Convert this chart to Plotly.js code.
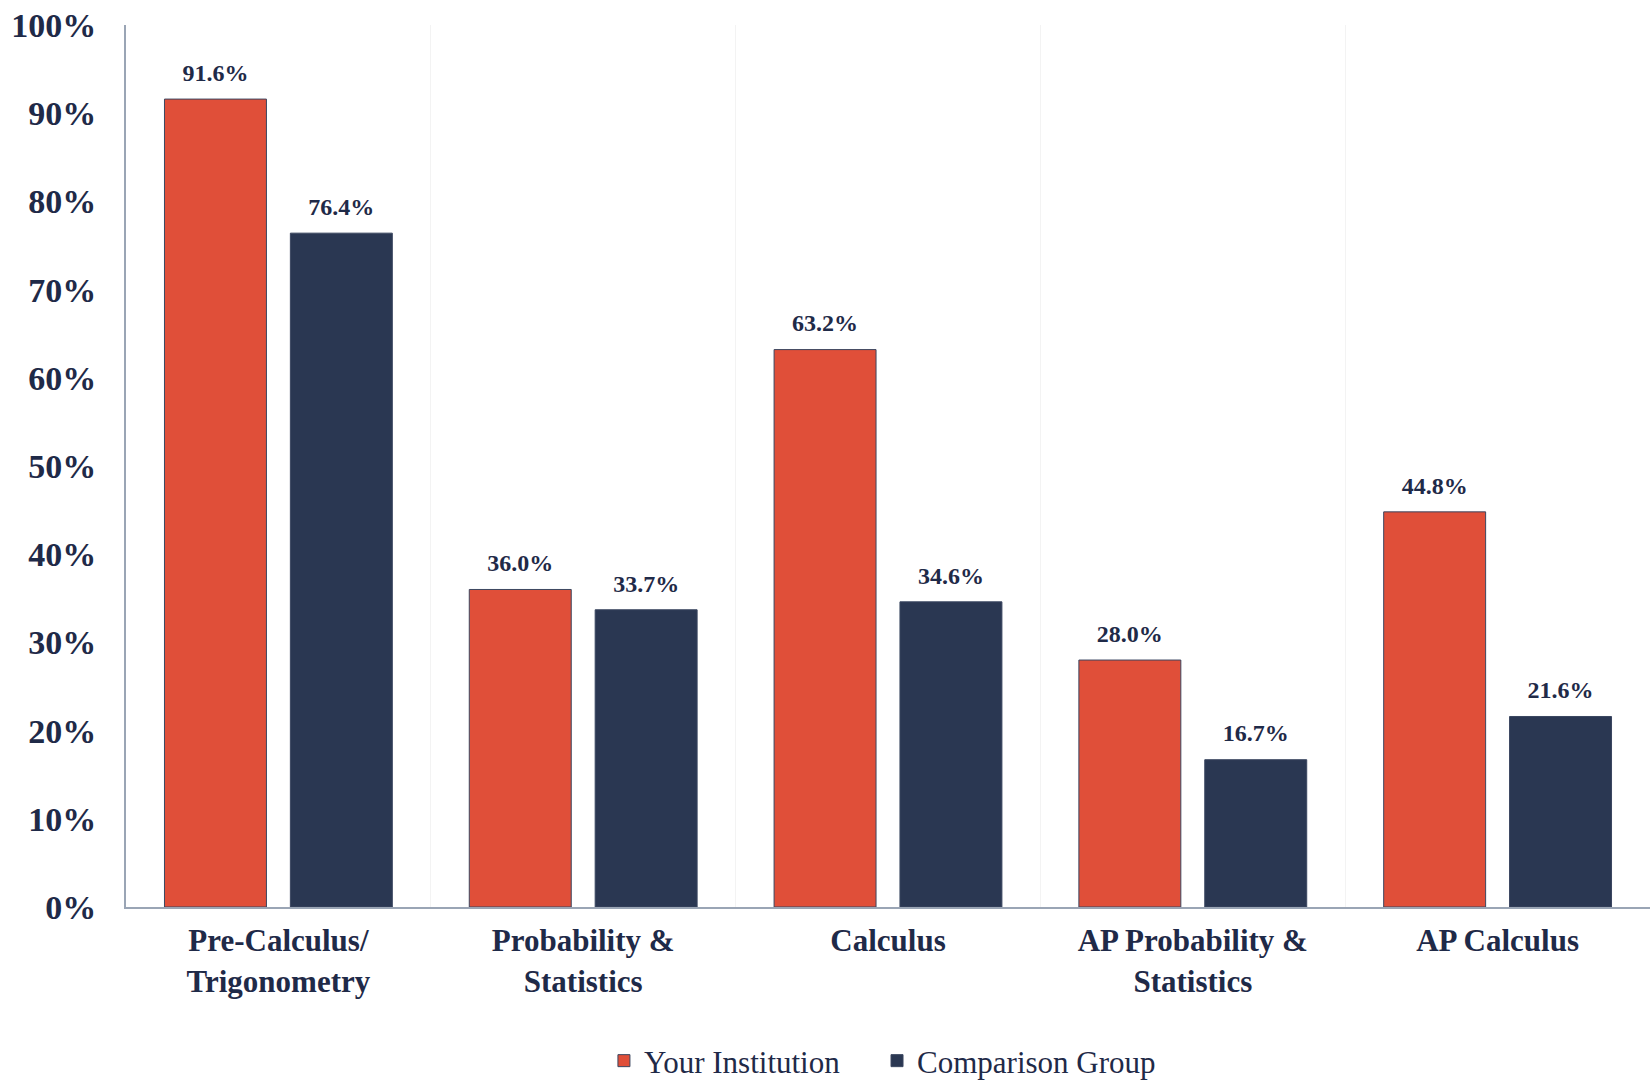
<!DOCTYPE html>
<html>
<head>
<meta charset="utf-8">
<script src="https://cdn.plot.ly/plotly-3.0.1.min.js"></script>
<style>html,body{margin:0;padding:0;background:#fff;}#chart{width:1652px;height:1081px;}</style>
</head>
<body>
<div id="chart"></div>
<script>
const categories = ["Pre-Calculus/<br>Trigonometry", "Probability &<br>Statistics", "Calculus", "AP Probability &<br>Statistics", "AP Calculus"];
const yourInstitution = [91.6, 36.0, 63.2, 28.0, 44.8];
const comparisonGroup = [76.4, 33.7, 34.6, 16.7, 21.6];
const seriesNames = ["Your Institution", "Comparison Group"];
const yTickValues = [0, 10, 20, 30, 40, 50, 60, 70, 80, 90, 100];
const yTickLabels = ["0%", "10%", "20%", "30%", "40%", "50%", "60%", "70%", "80%", "90%", "100%"];

const fontFam = "Liberation Serif, Times New Roman, serif";
const textColor = "#1f2a48";
const labelFont = {family: fontFam, size: 24, color: textColor, weight: "bold"};

function barTrace(name, vals, color, legendId) {
  return {
    type: "bar", name: name, x: categories, y: vals, legend: legendId,
    marker: {color: color, line: {color: "#3a4660", width: 1}},
    hoverinfo: "none"
  };
}
function labelTrace(name, vals) {
  return {
    type: "scatter", mode: "markers+text", name: name, showlegend: false,
    x: categories, y: vals,
    text: vals.map(v => v.toFixed(1) + "%"),
    textposition: "top center", textfont: labelFont,
    marker: {size: 18, color: "rgba(0,0,0,0)", line: {width: 0}},
    cliponaxis: false, hoverinfo: "none"
  };
}

const traces = [
  barTrace(seriesNames[0], yourInstitution, "#E04F39", "legend"),
  barTrace(seriesNames[1], comparisonGroup, "#2A3752", "legend2"),
  labelTrace(seriesNames[0] + " labels", yourInstitution),
  labelTrace(seriesNames[1] + " labels", comparisonGroup)
];

const legendBase = {
  orientation: "h", xanchor: "left",
  yref: "container", y: 0.0185, yanchor: "middle",
  font: {family: fontFam, size: 31, color: textColor},
  itemwidth: 30, bgcolor: "rgba(0,0,0,0)"
};

const layout = {
  width: 1652, height: 1081,
  margin: {l: 126, r: 2, t: 25, b: 174, autoexpand: false},
  paper_bgcolor: "#ffffff", plot_bgcolor: "#ffffff",
  barmode: "group", bargap: 0.174, bargroupgap: 0.19,
  scattermode: "group", scattergap: 0.174,
  font: {family: fontFam, color: textColor},
  showlegend: true,
  legend: Object.assign({}, legendBase, {x: 0.3136}),
  legend2: Object.assign({}, legendBase, {x: 0.4928}),
  xaxis: {
    type: "category",
    showline: true, linecolor: "#9aa5b5", linewidth: 2,
    showgrid: true, gridcolor: "#f3f3f3", gridwidth: 1, tickson: "boundaries",
    ticks: "", ticklabelstandoff: 5,
    tickfont: {family: fontFam, size: 31, color: textColor, weight: "bold"},
    fixedrange: true
  },
  yaxis: {
    range: [0, 100], tickvals: yTickValues, ticktext: yTickLabels,
    showline: true, linecolor: "#9aa5b5", linewidth: 2,
    showgrid: false, zeroline: false,
    ticks: "", ticklabelstandoff: 21,
    tickfont: {family: fontFam, size: 34, color: textColor, weight: "bold"},
    fixedrange: true
  }
};

Plotly.newPlot("chart", traces, layout, {displayModeBar: false, staticPlot: true});
</script>
</body>
</html>
